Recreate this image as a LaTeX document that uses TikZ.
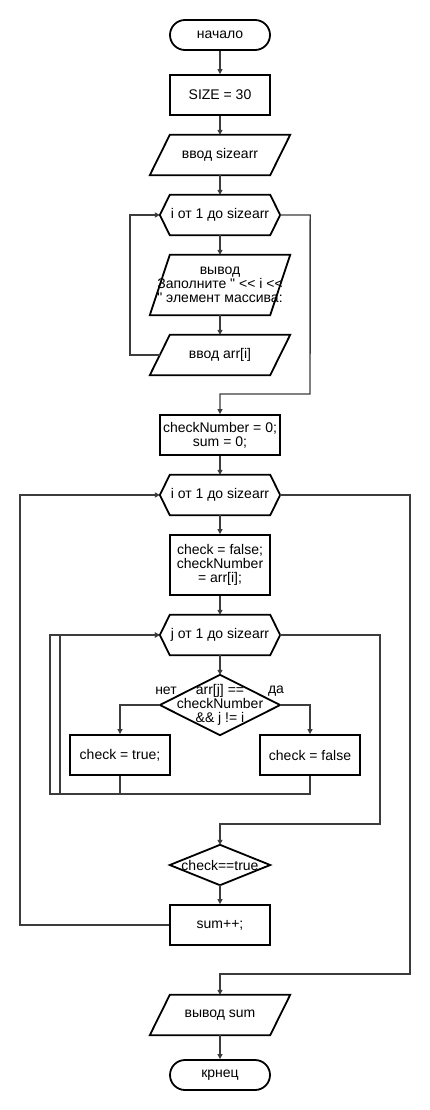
\documentclass[tikz,border=0pt]{standalone}
\usepackage{fontspec}
\newfontfamily\lsans{Liberation Sans}
\usetikzlibrary{arrows.meta}
\definecolor{connc}{RGB}{60,60,60}
\begin{document}
\begin{tikzpicture}[x=1pt,y=-1pt,
  every node/.style={font=\lsans\fontsize{14}{14.3}\selectfont, align=center, inner sep=0pt},
  outline/.style={draw=black, line width=1.8pt, line join=miter},
  terminal/.style={outline, rounded corners=15pt, minimum width=100pt, minimum height=30pt},
  procbox/.style={outline, minimum width=100pt, minimum height=40pt},
  iobox/.style={minimum width=140pt, minimum height=40pt},
  loopbox/.style={minimum width=120pt, minimum height=40pt},
  decbox/.style={minimum width=120pt, minimum height=60pt},
  conn/.style={draw=connc, line width=1.4pt},
  arr/.style={conn, -{Triangle[length=5pt,width=5pt]}}
]
\path[fill=white, use as bounding box] (0,0) rectangle (430,1110);

% blocks
\node[terminal] (start) at (220,35) {начало};
\node[procbox] (size) at (220,95) {SIZE = 30};
\node[iobox] (inSize) at (220,155) {ввод sizearr};
\node[loopbox] (loop1) at (220,215) {i от 1 до sizearr};
\node[iobox, minimum height=60pt] (out1) at (220,285) {вывод\\Заполните " <\kern0pt< i <\kern0pt<\\" элемент массива:};
\node[iobox] (in1) at (220,355) {ввод arr[i]};
\node[procbox, minimum width=120pt] (init) at (220,435) {checkNumber = 0;\\ sum = 0;};
\node[loopbox] (loop2) at (220,495) {i от 1 до sizearr};
\node[procbox, minimum height=60pt] (body) at (220,565) {check = false;\\ checkNumber\\= arr[i];};
\node[loopbox] (loop3) at (220,635) {j от 1 до sizearr};
\node[decbox] (cond) at (220,705) {arr[j] ==\\checkNumber\\\&\& j != i};
\node[procbox] (ctrue) at (120,755) {check = true;};
\node[procbox] (cfalse) at (310,755) {check = false};
\node[minimum width=100pt, minimum height=40pt] (chk) at (220,865) {check==true};
\node[procbox] (sum) at (220,925) {sum++;};
\node[iobox] (outSum) at (220,1015) {вывод sum};
\node[terminal] (end) at (220,1075) {крнец};

\node (lblNo) at (166,691) {нет};
\node (lblYes) at (276,691) {да};

% outlines of the slanted, hexagonal and diamond blocks
\foreach \n in {inSize,out1,in1,outSum}
  \draw[outline] ([xshift=20pt]\n.north west) -- (\n.north east)
    -- ([xshift=-20pt]\n.south east) -- (\n.south west) -- cycle;
\foreach \n in {loop1,loop2,loop3}
  \draw[outline] ([xshift=10pt]\n.north west) -- ([xshift=-10pt]\n.north east)
    -- (\n.east) -- ([xshift=-10pt]\n.south east) -- ([xshift=10pt]\n.south west)
    -- (\n.west) -- cycle;
\foreach \n in {cond,chk}
  \draw[outline] (\n.north) -- (\n.east) -- (\n.south) -- (\n.west) -- cycle;

% connectors
\draw[arr] (start) -- (size);
\draw[arr] (size) -- (inSize);
\draw[arr] (inSize) -- (loop1);
\draw[arr] (loop1) -- (out1);
\draw[arr] (out1) -- (in1);
\draw[arr] ([xshift=10pt]in1.west) -- ++(-30,0) |- (loop1.west);
\draw[arr] (loop1.east) -- ++(30,0) -- (310,394) -| (init.north);
\draw[arr] (init) -- (loop2);
\draw[arr] (loop2) -- (body);
\draw[arr] (body) -- (loop3);
\draw[arr] (loop3) -- (cond);
\draw[arr] (cond.west) -| (ctrue.north);
\draw[arr] (cond.east) -| (cfalse.north);
\draw[arr] (ctrue.south) -- (120,794) -- (60,794) |- (loop3.west);
\draw[arr] (cfalse.south) -- (310,794) -- (50,794) |- (loop3.west);
\draw[arr] (loop3.east) -- (380,635) -- (380,824) -| (chk.north);
\draw[arr] (chk) -- (sum);
\draw[arr] (sum.west) -- (20,925) |- (loop2.west);
\draw[arr] (loop2.east) -- (410,495) -- (410,974) -| (outSum.north);
\draw[arr] (outSum) -- (end);
\end{tikzpicture}
\end{document}
